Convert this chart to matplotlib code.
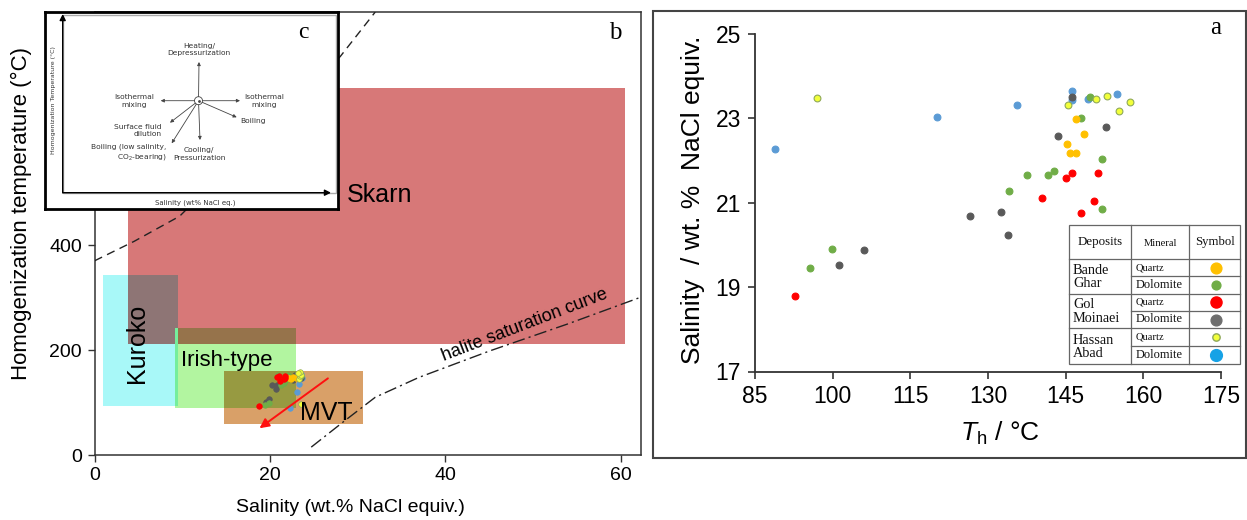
import matplotlib.pyplot as plt
from matplotlib.patches import Rectangle, Circle

plt.rcParams['font.family'] = ['Liberation Sans', 'DejaVu Sans']
plt.rcParams['mathtext.fontset'] = 'custom'
plt.rcParams['mathtext.rm'] = 'Liberation Sans'
plt.rcParams['mathtext.it'] = 'Liberation Sans:italic'

W, H = 1247, 520

# ---------------- data (panel a: Th vs salinity) ----------------
bg_qz_th = [147.0, 148.6, 145.3, 145.8, 147.0]
bg_qz_sal = [22.99, 22.63, 22.40, 22.18, 22.18]
bg_dol_th = [95.6, 99.8, 134.1, 137.5, 141.6, 142.7, 152.0, 152.0, 147.9, 149.7]
bg_dol_sal = [19.45, 19.90, 21.27, 21.65, 21.65, 21.75, 22.03, 20.86, 23.02, 23.50]
gm_qz_th = [92.7, 140.5, 145.0, 146.2, 151.3, 150.5, 148.0]
gm_qz_sal = [18.79, 21.12, 21.59, 21.70, 21.70, 21.05, 20.76]
gm_dol_th = [101.2, 106.0, 126.5, 132.5, 133.8, 143.6, 152.8, 146.2]
gm_dol_sal = [19.53, 19.89, 20.69, 20.79, 20.24, 22.58, 22.80, 23.50]
ha_qz_th = [97.0, 145.5, 150.9, 153.0, 157.4, 155.3]
ha_qz_sal = [23.49, 23.31, 23.47, 23.52, 23.39, 23.18]
ha_dol_th = [88.9, 120.1, 135.6, 146.2, 146.2, 149.3, 154.9]
ha_dol_sal = [22.28, 23.03, 23.31, 23.65, 23.44, 23.47, 23.57]

# draw order: blue, gray, green, orange, red, yellow
groups = [
    (ha_dol_th, ha_dol_sal, '#5b9bd5', '#5b9bd5'),
    (gm_dol_th, gm_dol_sal, '#595959', '#595959'),
    (bg_dol_th, bg_dol_sal, '#70ad47', '#70ad47'),
    (bg_qz_th, bg_qz_sal, '#ffc000', '#ffc000'),
    (gm_qz_th, gm_qz_sal, '#ff0000', '#ff0000'),
    (ha_qz_th, ha_qz_sal, '#f2ff3a', '#8fa85a'),
]

# ---------------- data (panel b: fluid fields) ----------------
zone_names = ['Skarn', 'Kuroko', 'Irish-type', 'MVT']
zone_sal = [(3.8, 60.5), (1.0, 9.5), (9.2, 23.0), (14.8, 30.6)]
zone_th = [(211, 700), (93, 343), (90, 242), (59, 160)]
zone_colors = ['#d77878', '#a8f8f8', '#b2f5a0', '#d9a068']

crit_sal = [0, 4.5, 9.7, 28, 32]
crit_th = [370, 407, 455, 759, 844]
halite_sal = [24.7, 28.5, 32, 37, 45, 54, 62.5]
halite_th = [15, 65, 110, 148, 198, 250, 302]

# legend table
deposits = ['Bande\nGhar', 'Gol\nMoinaei', 'Hassan\nAbad']
minerals = ['Quartz', 'Dolomite']
legend_colors = ['#ffc000', '#70ad47', '#ff0000', '#6e6e6e', '#f2ff3a', '#16a2e6']
legend_edges = ['#ffc000', '#70ad47', '#ff0000', '#6e6e6e', '#8fa85a', '#16a2e6']
legend_sizes = [60, 40, 64, 60, 28, 72]


def px_box(x0, y0, x1, y1):
    return [x0 / W, 1 - y1 / H, (x1 - x0) / W, (y1 - y0) / H]


def hex_rgb(c):
    c = c.lstrip('#')
    return [int(c[i:i + 2], 16) / 255 for i in (0, 2, 4)]


fig = plt.figure(figsize=(W / 100, H / 100), dpi=100)

# ======================= panel b =======================
axb = fig.add_axes(px_box(94.6, 12, 641, 455))
axb.set_xlim(0, 62.3)
axb.set_ylim(0, 844)

for i, name in enumerate(zone_names):
    (x0, x1), (y0, y1) = zone_sal[i], zone_th[i]
    axb.add_patch(Rectangle((x0, y0), x1 - x0, y1 - y0, facecolor=zone_colors[i],
                            edgecolor='none', zorder=1 + i))
# overlaps look multiplied
for i in range(len(zone_names)):
    for j in range(i + 1, len(zone_names)):
        x0 = max(zone_sal[i][0], zone_sal[j][0])
        x1 = min(zone_sal[i][1], zone_sal[j][1])
        y0 = max(zone_th[i][0], zone_th[j][0])
        y1 = min(zone_th[i][1], zone_th[j][1])
        if x1 > x0 and y1 > y0:
            c = [a * b for a, b in zip(hex_rgb(zone_colors[i]), hex_rgb(zone_colors[j]))]
            axb.add_patch(Rectangle((x0, y0), x1 - x0, y1 - y0, facecolor=c,
                                    edgecolor='none', zorder=1.5 + j))

axb.text(32.5, 495, 'Skarn', fontsize=18, ha='center', va='center', zorder=10)
axb.text(4.8, 212, 'Kuroko', fontsize=18, rotation=90, ha='center', va='center', zorder=10)
axb.text(9.9, 180, 'Irish-type', fontsize=16, ha='left', va='center', zorder=10)
axb.text(26.4, 80, 'MVT', fontsize=18, ha='center', va='center', zorder=10)
axb.text(49.0, 248, 'halite saturation curve', fontsize=13, rotation=21,
         ha='center', va='center', zorder=10)

axb.plot(crit_sal, crit_th, color='#222222', lw=1, dashes=(6, 4), zorder=8)
axb.plot(halite_sal, halite_th, color='#222222', lw=1, dashes=(9, 3, 1.5, 3), zorder=8)

for th, sal, fc, ec in groups:
    axb.scatter(sal, th, s=16, c=fc, edgecolors=ec, linewidths=0.5, zorder=9)

axb.annotate('', xy=(18.8, 51), xytext=(26.6, 146),
             arrowprops=dict(arrowstyle='-|>', color='#ff1010', lw=1.4,
                             mutation_scale=14, shrinkA=0, shrinkB=0), zorder=11)

# ticks at 600 and 800 sit under the inset, so only the visible ones
axb.set_xticks([0, 20, 40, 60])
axb.set_yticks([0, 200, 400])
axb.tick_params(labelsize=14, length=5, width=1, color='#333333', pad=4)
for s in axb.spines.values():
    s.set_color('#333333')
    s.set_linewidth(1.1)

# ======================= inset c =======================
axc = fig.add_axes(px_box(45, 12, 338, 209), zorder=5)
axc.set_xlim(45, 338)
axc.set_ylim(209, 12)
axc.set_xticks([])
axc.set_yticks([])
for s in axc.spines.values():
    s.set_color('black')
    s.set_linewidth(2)

axc.add_patch(Rectangle((62.7, 15), 273, 177.7, fill=False, edgecolor='#aaaaaa', lw=1))
axc.annotate('', xy=(62.7, 14), xytext=(62.7, 192.7),
             arrowprops=dict(arrowstyle='-|>', color='black', lw=1, mutation_scale=9,
                             shrinkA=0, shrinkB=0))
axc.annotate('', xy=(331, 192.7), xytext=(62.7, 192.7),
             arrowprops=dict(arrowstyle='-|>', color='black', lw=1, mutation_scale=9,
                             shrinkA=0, shrinkB=0))

cx, cy = 198.5, 100.7
axc.add_patch(Circle((cx, cy), 4, fill=False, edgecolor='#444444', lw=0.6))
axc.plot([cx], [cy], 'o', ms=1, color='#444444')
ends = [(199, 62), (200, 140), (160.7, 100.7), (240, 100.7),
        (236.7, 117.3), (170, 122.7), (171.7, 143.3)]
for ex, ey in ends:
    dx, dy = ex - cx, ey - cy
    d = (dx ** 2 + dy ** 2) ** 0.5
    axc.annotate('', xy=(ex, ey), xytext=(cx + 4 * dx / d, cy + 4 * dy / d),
                 arrowprops=dict(arrowstyle='-|>', color='#444444', lw=0.6,
                                 mutation_scale=5, shrinkA=0, shrinkB=0))

small = dict(fontsize=5.4, color='#333333', family='DejaVu Sans', va='center', linespacing=1.3)
axc.text(199, 49.5, 'Heating/\nDepressurization', ha='center', **small)
axc.text(199, 154, 'Cooling/\nPressurization', ha='center', **small)
axc.text(154, 100.9, 'Isothermal\nmixing', ha='right', multialignment='center', **small)
axc.text(244, 100.9, 'Isothermal\nmixing', ha='left', multialignment='center', **small)
axc.text(240, 121, 'Boiling', ha='left', **small)
axc.text(162, 130.5, 'Surface fluid\ndilution', ha='right', multialignment='right', **small)
axc.text(166.7, 152.8, 'Boiling (low salinity,\nCO$_2$-bearing)', ha='right',
         multialignment='right', **small)
axc.text(195, 203, 'Salinity (wt% NaCl eq.)', fontsize=5, ha='center', va='center',
         family='DejaVu Sans', color='#333333')
axc.text(53.3, 100, 'Homogenization Temperature (°C)', fontsize=4.5, rotation=90,
         ha='center', va='center', family='DejaVu Sans', color='#333333')
axc.text(303, 33, 'c', fontsize=17, family='Liberation Serif', ha='center', va='center')

# ======================= panel a =======================
axa = fig.add_axes(px_box(755, 34, 1221, 371.5))
for th, sal, fc, ec in groups:
    axa.scatter(th, sal, s=24, c=fc, edgecolors=ec, linewidths=0.8, zorder=3)
axa.set_xlim(85, 175)
axa.set_ylim(17, 25)
axa.set_xticks([85, 100, 115, 130, 145, 160, 175])
axa.set_yticks([17, 19, 21, 23, 25])
axa.spines['top'].set_visible(False)
axa.spines['right'].set_visible(False)
for s in ('left', 'bottom'):
    axa.spines[s].set_color('#333333')
    axa.spines[s].set_linewidth(1.3)
axa.tick_params(labelsize=16.5, length=5, width=1.2, color='#333333', pad=5)

# ======================= overlay (frames, labels, table) =======================
ov = fig.add_axes([0, 0, 1, 1], zorder=10)
ov.set_xlim(0, W)
ov.set_ylim(H, 0)
ov.axis('off')

ov.add_patch(Rectangle((653, 10.5), 592.5, 447.5, fill=False, edgecolor='#444444', lw=1.5))

ov.text(21, 213, 'Homogenization temperature (°C)', fontsize=16, rotation=90,
        ha='center', va='center')
ov.text(350, 507, 'Salinity (wt.% NaCl equiv.)', fontsize=14, ha='center', va='center')
ov.text(615, 33, 'b', fontsize=18, family='Liberation Serif', ha='center', va='center')

ov.text(693, 200, 'Salinity  / wt. %  NaCl equiv.', fontsize=19, rotation=90,
        ha='center', va='center')
ov.text(1000, 433, '$T_\\mathrm{h}$ / °C', fontsize=19, ha='center', va='center')
ov.text(1216, 28, 'a', fontsize=18, family='Liberation Serif', ha='center', va='center')

# legend table
tx = [1069.3, 1131, 1189.3, 1240.3]
ty = [225, 259, 276, 293.7, 310.7, 328.3, 346, 364]
lc = dict(color='#666666', lw=0.9)
ov.add_patch(Rectangle((tx[0], ty[0]), tx[3] - tx[0], ty[-1] - ty[0],
                       facecolor='white', edgecolor='#666666', lw=0.9))
for x in tx[1:3]:
    ov.plot([x, x], [ty[0], ty[-1]], **lc)
for k, y in enumerate(ty[1:-1]):
    x_start = tx[0] if k % 2 == 0 else tx[1]
    ov.plot([x_start, tx[3]], [y, y], **lc)

serif = dict(family='Liberation Serif', color='#111111', va='center')
ov.text(1100, 242, 'Deposits', fontsize=9.3, ha='center', **serif)
ov.text(1160, 243, 'Mineral', fontsize=7.6, ha='center', **serif)
ov.text(1215, 242, 'Symbol', fontsize=9.2, ha='center', **serif)
for k, dep in enumerate(deposits):
    ov.text(1073, (ty[1 + 2 * k] + ty[3 + 2 * k]) / 2 + 0.5, dep, fontsize=10.3,
            ha='left', linespacing=1.0, **serif)
    for m, mineral in enumerate(minerals):
        yc = (ty[1 + 2 * k + m] + ty[2 + 2 * k + m]) / 2
        ov.text(1136, yc, mineral, fontsize=7.6 if m == 0 else 8.9, ha='left', **serif)
        idx = 2 * k + m
        ov.scatter([1216], [yc], s=legend_sizes[idx], c=legend_colors[idx],
                   edgecolors=legend_edges[idx], linewidths=1.0)

fig.savefig('out.png', dpi=100)
